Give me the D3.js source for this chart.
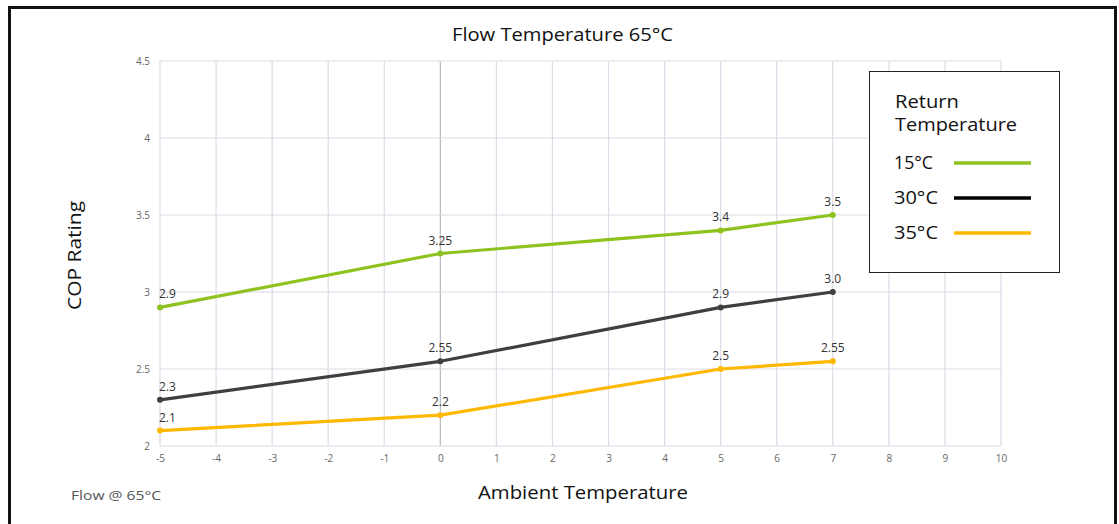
<!DOCTYPE html>
<html>
<head>
<meta charset="utf-8">
<script src="https://cdn.jsdelivr.net/npm/d3@7"></script>
<style>
  html, body { margin: 0; padding: 0; background: #fff; }
  svg { display: block; font-family: "Open Sans", "DejaVu Sans", sans-serif; }
</style>
</head>
<body>
<svg id="chart" width="1119" height="524"></svg>
<script>
// Ambient temperatures (°C) at which COP was measured
const ambient = [-5, 0, 5, 7];

// COP per return temperature
const cop15 = [2.9, 3.25, 3.4, 3.5];
const cop30 = [2.3, 2.55, 2.9, 3.0];
const cop35 = [2.1, 2.2, 2.5, 2.55];

// Labels printed next to each point
const labels15 = ["2.9", "3.25", "3.4", "3.5"];
const labels30 = ["2.3", "2.55", "2.9", "3.0"];
const labels35 = ["2.1", "2.2", "2.5", "2.55"];

const seriesNames = ["15°C", "30°C", "35°C"];
const seriesColors = ["#8dc21f", "#3f3f3f", "#ffb800"];
const legendColors = ["#8dc21f", "#000000", "#ffb800"];

const xTicks = d3.range(-5, 11, 1);
const yTicks = [2, 2.5, 3, 3.5, 4, 4.5];

const svg = d3.select("#chart");

// outer frame
svg.append("rect")
  .attr("x", 9.5).attr("y", 7.5)
  .attr("width", 1106).attr("height", 530)
  .attr("fill", "none").attr("stroke", "#111").attr("stroke-width", 3);

const x = d3.scaleLinear().domain([-5, 10]).range([160, 1001]);
const y = d3.scaleLinear().domain([2, 4.5]).range([446, 61]);

// grid
const grid = svg.append("g");
grid.selectAll("line.v").data(xTicks).join("line")
  .attr("x1", d => x(d)).attr("x2", d => x(d))
  .attr("y1", y(4.5)).attr("y2", y(2))
  .attr("stroke", d => d === 0 ? "#b8b8c0" : "#dcdbe8")
  .attr("stroke-width", 1.2);
grid.selectAll("line.h").data(yTicks).join("line")
  .attr("x1", x(-5)).attr("x2", x(10))
  .attr("y1", d => y(d)).attr("y2", d => y(d))
  .attr("stroke", "#dcdbe8").attr("stroke-width", 1.2);

// axes (labels only)
const xAxis = svg.append("g")
  .attr("transform", `translate(0,${y(2)})`)
  .call(d3.axisBottom(x).tickValues(xTicks).tickSize(0).tickPadding(9).tickFormat(d => String(d)));
xAxis.select(".domain").remove();
xAxis.selectAll("text").attr("fill", "#666").attr("font-size", 10).attr("font-family", "Open Sans, sans-serif");

const yAxis = svg.append("g")
  .attr("transform", `translate(${x(-5)},0)`)
  .call(d3.axisLeft(y).tickValues(yTicks).tickSize(0).tickPadding(10).tickFormat(d => String(d)));
yAxis.select(".domain").remove();
yAxis.selectAll("text").attr("fill", "#666").attr("font-size", 10).attr("font-family", "Open Sans, sans-serif");

// series
const series = [
  { name: seriesNames[0], values: cop15, labels: labels15, color: seriesColors[0] },
  { name: seriesNames[1], values: cop30, labels: labels30, color: seriesColors[1] },
  { name: seriesNames[2], values: cop35, labels: labels35, color: seriesColors[2] }
];

const line = d3.line().x(d => x(d[0])).y(d => y(d[1]));

series.forEach(s => {
  const pts = ambient.map((a, i) => [a, s.values[i], s.labels[i]]);
  svg.append("path").datum(pts)
    .attr("d", line).attr("fill", "none")
    .attr("stroke", s.color).attr("stroke-width", 3.2)
    .attr("stroke-linejoin", "round");
  svg.append("g").selectAll("circle").data(pts).join("circle")
    .attr("cx", d => x(d[0])).attr("cy", d => y(d[1]))
    .attr("r", 3).attr("fill", s.color);
  svg.append("g").selectAll("text").data(pts).join("text")
    .attr("x", d => x(d[0]) + (d[0] === -5 ? -1 : 0))
    .attr("y", d => y(d[1]) - 9)
    .attr("text-anchor", d => d[0] === -5 ? "start" : "middle")
    .attr("fill", "#333").attr("font-size", 12)
    .text(d => d[2]);
});

// text with a fixed rendered width
function fitText(sel, w) {
  return sel.attr("textLength", w).attr("lengthAdjust", "spacingAndGlyphs");
}

// titles
fitText(svg.append("text").attr("x", 452).attr("y", 41)
  .attr("font-size", 18).attr("fill", "#111").text("Flow Temperature 65°C"), 221);
fitText(svg.append("text").attr("transform", "translate(81,310) rotate(-90)")
  .attr("font-size", 18).attr("fill", "#111").text("COP Rating"), 109);
fitText(svg.append("text").attr("x", 478).attr("y", 499)
  .attr("font-size", 18).attr("fill", "#111").text("Ambient Temperature"), 210);
fitText(svg.append("text").attr("x", 71).attr("y", 500)
  .attr("font-size", 13).attr("fill", "#555").text("Flow @ 65°C"), 90);

// legend
const lg = svg.append("g");
lg.append("rect").attr("x", 869.5).attr("y", 71.5).attr("width", 190).attr("height", 201)
  .attr("fill", "#fff").attr("stroke", "#222").attr("stroke-width", 1);
fitText(lg.append("text").attr("x", 895).attr("y", 108).attr("font-size", 18).attr("fill", "#111").text("Return"), 64);
fitText(lg.append("text").attr("x", 895).attr("y", 131).attr("font-size", 18).attr("fill", "#111").text("Temperature"), 122);
const legY = [163, 198, 233];
const legW = [39, 44, 44];
seriesNames.forEach((n, i) => {
  fitText(lg.append("text").attr("x", 894).attr("y", legY[i] + 6).attr("font-size", 18).attr("fill", "#111").text(n), legW[i]);
  lg.append("line").attr("x1", 954).attr("x2", 1031).attr("y1", legY[i]).attr("y2", legY[i])
    .attr("stroke", legendColors[i]).attr("stroke-width", 3.5);
});
</script>
</body>
</html>
